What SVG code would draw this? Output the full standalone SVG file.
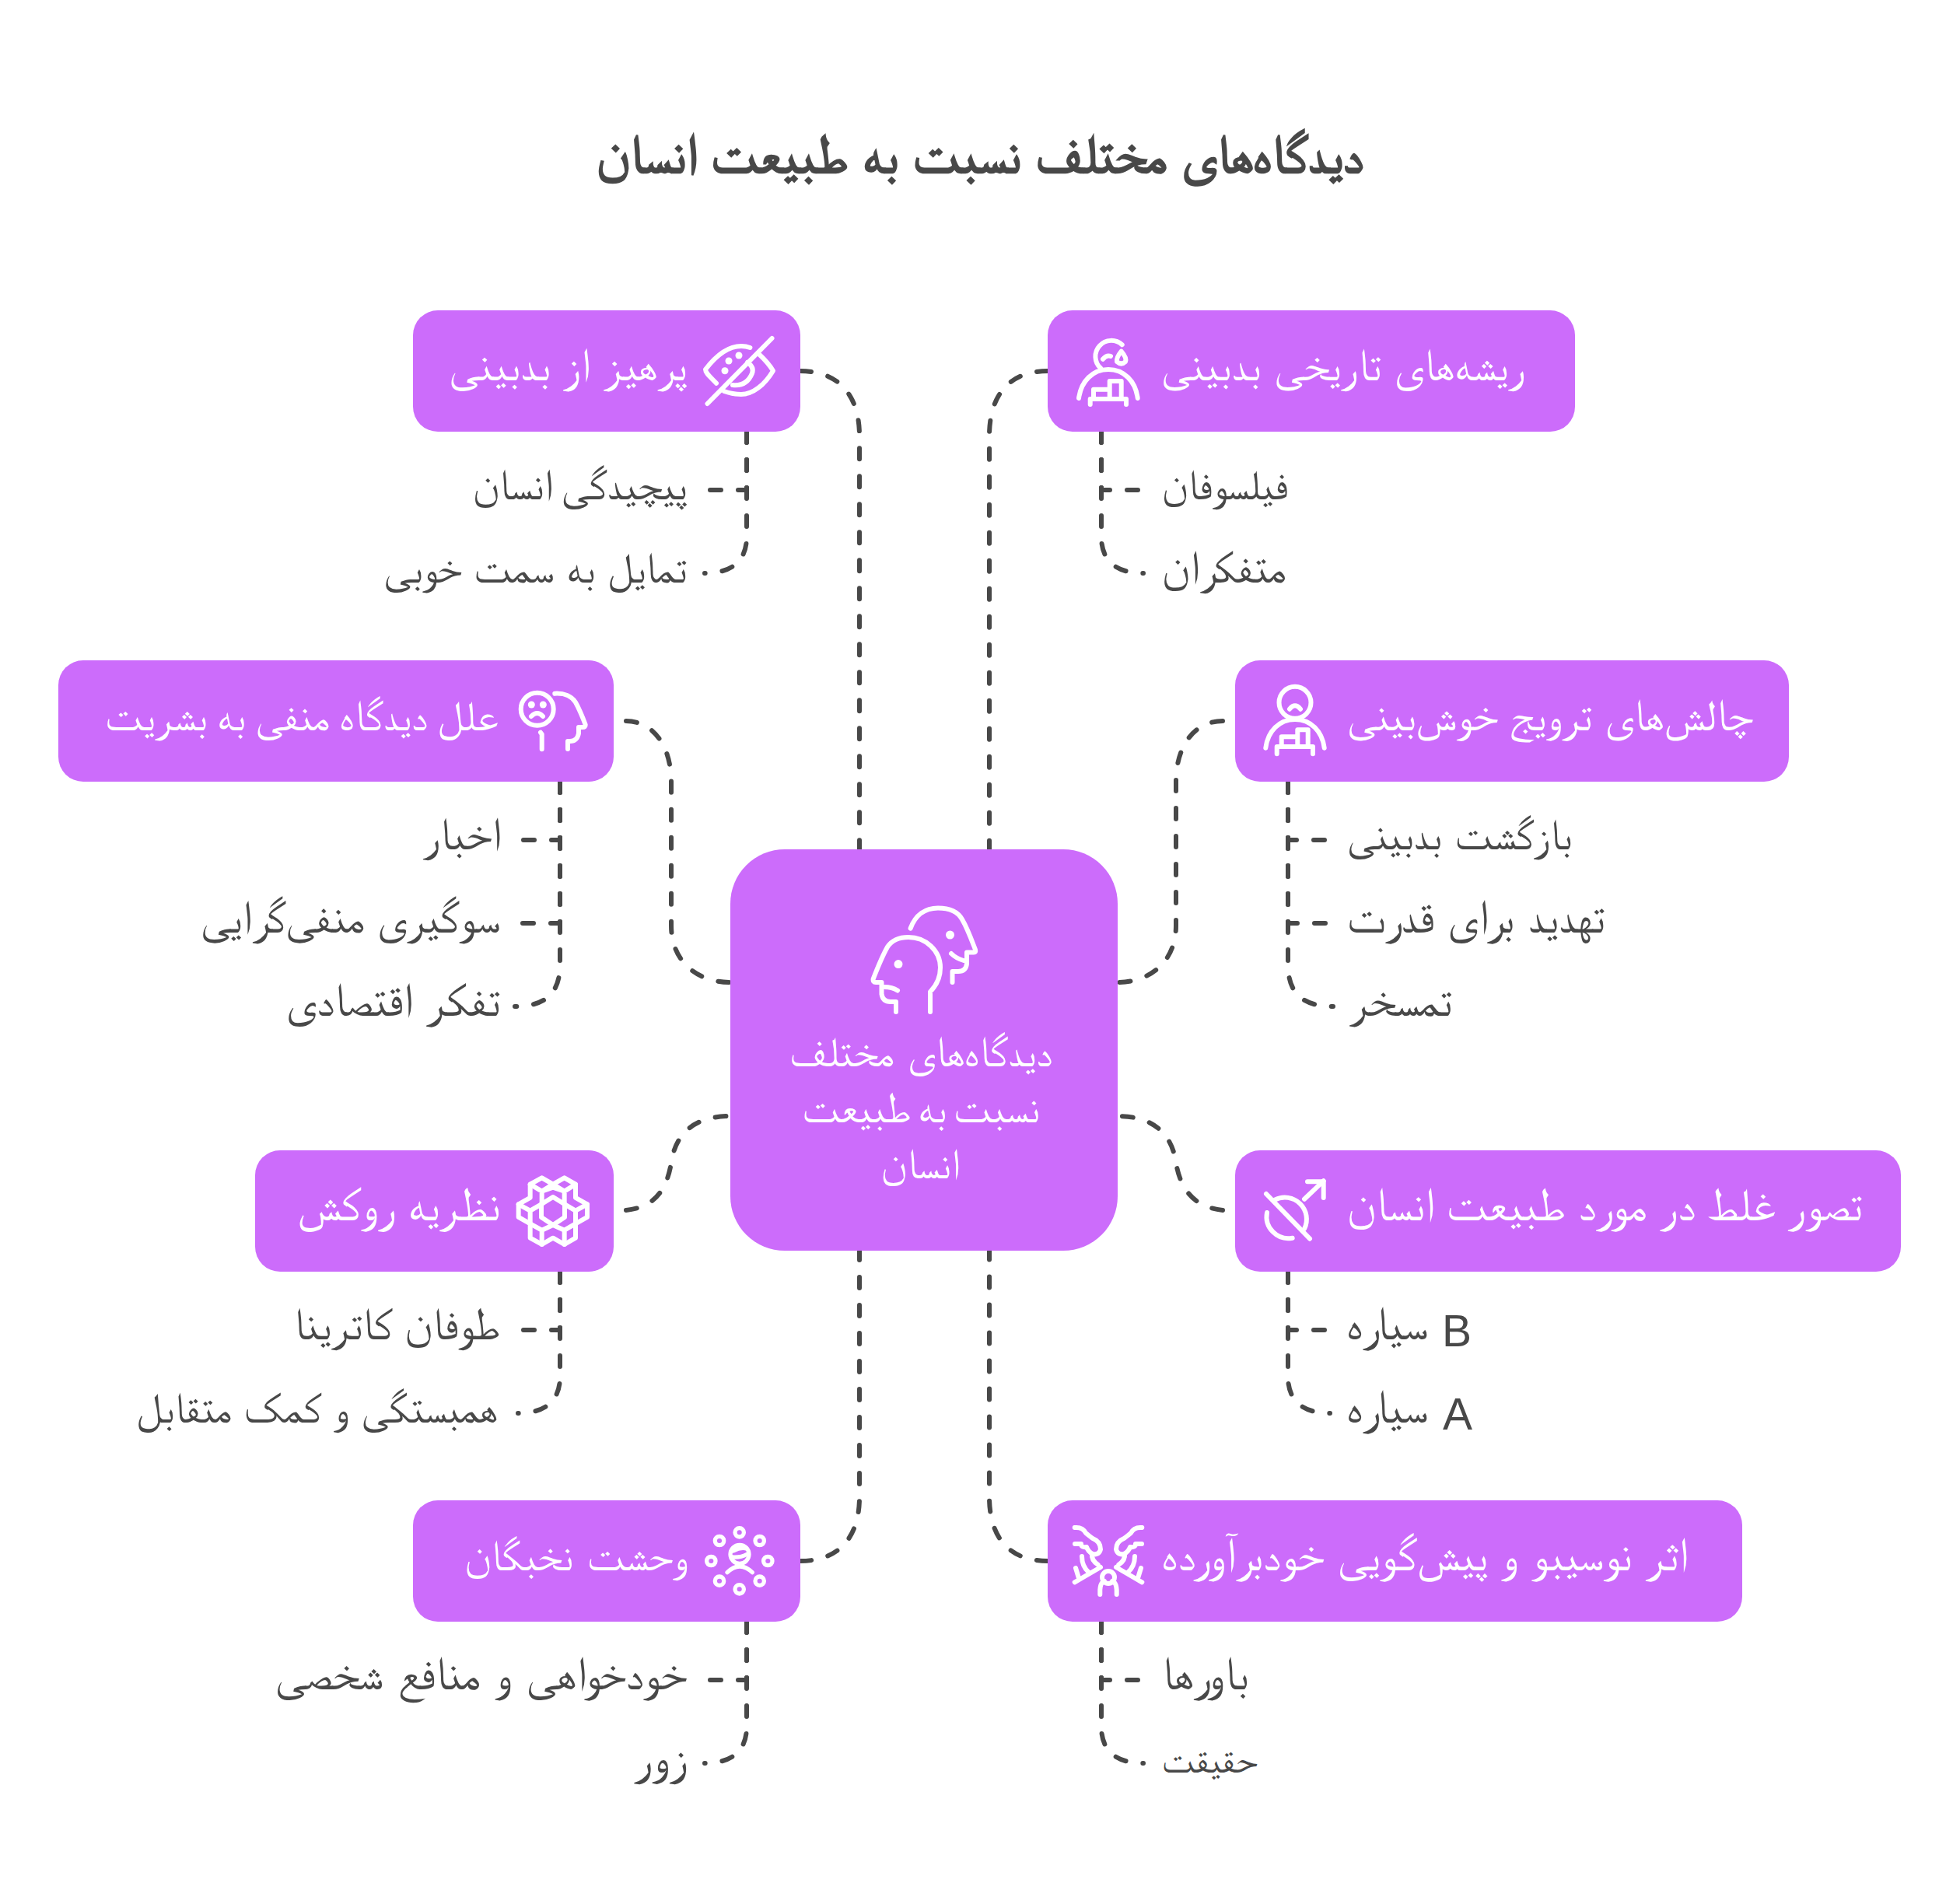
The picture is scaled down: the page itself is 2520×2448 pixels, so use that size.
<svg xmlns="http://www.w3.org/2000/svg" width="2520" height="2448" viewBox="0 0 2520 2448">
<style>
text{font-family:"Liberation Sans","FreeSerif",sans-serif;}
.title{font-size:69px;font-weight:400;fill:#484848;stroke:#484848;stroke-width:2.6;text-anchor:middle}
.n{font-size:55px;fill:#fff}
.l{font-size:55px;fill:#484848}
.lat{font-size:57px}
.s{text-anchor:start}.e{text-anchor:end}.m{text-anchor:middle}
.box{fill:#cc6cfb}
.conn path{fill:none;stroke:#484848;stroke-width:6;stroke-linecap:round;stroke-linejoin:round;stroke-dasharray:14 22}
.ic{fill:none;stroke:#fff;stroke-width:6;stroke-linecap:round;stroke-linejoin:round}
.dot{fill:#fff;stroke:none}
</style>
<rect width="2520" height="2448" fill="#fff"/>
<text class="title" x="1260" y="222">دیدگاه‌های مختلف نسبت به طبیعت انسان</text>
<g id="connectors" class="conn">
<path d="M1029 477C1080 477 1105 510 1105 560V1092"/>
<path d="M1347 477C1296 477 1272 510 1272 560V1092"/>
<path d="M805 927C840 927 863 960 863 1005V1190C863 1235 895 1263 939 1263"/>
<path d="M1572 927C1535 927 1512 960 1512 1005V1190C1512 1235 1480 1263 1437 1263"/>
<path d="M805 1556C845 1552 858 1525 863 1495C868 1460 890 1435 939 1435"/>
<path d="M1572 1556C1532 1552 1517 1525 1512 1495C1507 1460 1485 1435 1437 1435"/>
<path d="M1029 2007C1080 2007 1105 1975 1105 1925V1607"/>
<path d="M1347 2007C1296 2007 1272 1975 1272 1925V1607"/>
<path d="M960 555V630H906"/><path d="M960 555V690C960 722 940 737 906 737"/>
<path d="M1416 555V630H1470"/><path d="M1416 555V690C1416 722 1436 737 1470 737"/>
<path d="M720 1005V1080H666"/><path d="M720 1005V1187H666"/><path d="M720 1005V1240C720 1280 698 1294 662 1294"/>
<path d="M1656 1005V1080H1710"/><path d="M1656 1005V1187H1710"/><path d="M1656 1005V1240C1656 1280 1678 1294 1714 1294"/>
<path d="M720 1635V1710H666"/><path d="M720 1635V1770C720 1802 700 1817 666 1817"/>
<path d="M1656 1635V1710H1710"/><path d="M1656 1635V1770C1656 1802 1676 1817 1710 1817"/>
<path d="M960 2085V2160H906"/><path d="M960 2085V2220C960 2252 940 2267 906 2267"/>
<path d="M1416 2085V2160H1470"/><path d="M1416 2085V2220C1416 2252 1436 2267 1470 2267"/>
</g>
<g id="center">
<rect class="box" x="939" y="1092" width="498" height="516" rx="70"/>
<g class="ic">
<path d="M1170.6 1193.6C1177 1176 1190 1167.5 1206 1167.5C1222 1167.5 1232 1173 1237 1182C1244 1194 1249 1208 1254 1221Q1255 1224.6 1252 1224.6H1243V1239Q1242 1249 1232 1249H1224.5V1263"/>
<path d="M1223 1226Q1229 1232 1239 1235"/>
<path d="M1196 1301V1275C1204 1267 1209 1256 1209 1244C1209 1222 1190 1205 1168 1205C1155 1205 1146 1210 1141 1217.5C1134 1230 1128 1245 1122.7 1258.6Q1122 1263 1126 1263H1133.5V1278Q1135 1288 1145 1288H1152V1301"/>
<path d="M1137 1269Q1147 1269 1154 1273.5"/>
</g>
<circle class="dot" cx="1221.5" cy="1202" r="5.5"/><circle class="dot" cx="1155" cy="1239.6" r="5.5"/>
<text class="n m" x="1184" y="1371" style="word-spacing:2px">دیدگاه‌های مختلف</text>
<text class="n m" x="1184" y="1443" style="word-spacing:-6px">نسبت به طبیعت</text>
<text class="n m" x="1183" y="1515" style="font-size:54px">انسان</text>
</g>
<g id="node-a">
<rect class="box" x="531" y="399" width="498" height="156" rx="32"/>
<g class="ic">
<path d="M992.5 435L909.5 519"/>
<path d="M921 492.7C915 486 907 480 907 475C920 458 935 445 953 445Q959 445 964.4 447"/>
<path d="M975.5 455C983 462 990 470 994 476.7C983 495 968 507 953 507Q942 507 931 503"/>
<path d="M961 466Q970 472 967 480Q960 497 942 495"/>
</g>
<circle class="dot" cx="950" cy="457" r="4.5"/><circle class="dot" cx="937" cy="464" r="4.5"/><circle class="dot" cx="932" cy="476.7" r="4.5"/>
<text class="n e" x="883" y="489" style="font-size:59px">پرهیز از بدبینی</text>
</g>
<g id="node-a1"><text class="l e" x="883" y="642" style="word-spacing:-3.5px">پیچیدگی انسان</text></g>
<g id="node-a2"><text class="l e" x="883" y="749" style="word-spacing:1px">تمایل به سمت خوبی</text></g>
<g id="node-b">
<rect class="box" x="1347" y="399" width="678" height="156" rx="32"/>
<g class="ic">
<path d="M1442.7 443.3A20 20 0 1 0 1415 473.3"/>
<path d="M1387 512C1390 490 1405 475 1425 475C1445 475 1460 490 1462.7 512"/>
<path d="M1401.7 520V513H1448V520"/>
<path d="M1406 512V500.7H1426.7V490H1441.7V512M1426.7 500.7V512"/>
<path d="M1418 461.7Q1423 456 1428 458"/>
<path d="M1441.7 451.7Q1449 460 1447 465Q1441.7 470 1436 465Q1435 460 1441.7 451.7Z"/>
</g>
<text class="n s" x="1493" y="489" style="font-size:58px;word-spacing:1px">ریشه‌های تاریخی بدبینی</text>
</g>
<g id="node-b1"><text class="l s" x="1494" y="642" style="font-size:54px">فیلسوفان</text></g>
<g id="node-b2"><text class="l s" x="1494" y="749" style="font-size:58px">متفکران</text></g>
<g id="node-c">
<rect class="box" x="75" y="849" width="714" height="156" rx="32"/>
<g class="ic">
<circle cx="690.7" cy="911.7" r="21"/>
<path d="M683 921Q690.7 913 698 921"/>
<path d="M695 941.7L696.7 944V963.3"/>
<path d="M713.3 891.7C725 891 735 895 740 903C745 912 749 922 752.7 931.7Q753 935 749 935H744V943Q742 953 733 953H730V963"/>
</g>
<circle class="dot" cx="683.3" cy="906" r="4.5"/><circle class="dot" cx="698.3" cy="906" r="4.5"/>
<text class="n e" x="640" y="939" style="word-spacing:-2.3px">علل دیدگاه منفی به بشریت</text>
</g>
<g id="node-c1"><text class="l e" x="643" y="1092" style="font-size:58px">اخبار</text></g>
<g id="node-c2"><text class="l e" x="643" y="1199" style="font-size:58.5px">سوگیری منفی‌گرایی</text></g>
<g id="node-c3"><text class="l e" x="643" y="1306" style="font-size:60px;word-spacing:2px">تفکر اقتصادی</text></g>
<g id="node-d">
<rect class="box" x="1588" y="849" width="712" height="156" rx="32"/>
<g class="ic">
<circle cx="1665" cy="903.3" r="20.5"/>
<path d="M1627.3 961.7C1630 940 1645 925 1665 925C1685 925 1700 940 1702.7 961.7"/>
<path d="M1641.7 969.3V960H1688V969.3"/>
<path d="M1647.7 958V947.3H1668.3V938.3H1681.7V958M1668.3 947.3V958"/>
<path d="M1658 911.7Q1665 903 1672 911.7"/>
</g>
<text class="n s" x="1732" y="939" style="font-size:57px;word-spacing:1px">چالش‌های ترویج خوش‌بینی</text>
</g>
<g id="node-d1"><text class="l s" x="1732" y="1092" style="word-spacing:2px">بازگشت بدبینی</text></g>
<g id="node-d2"><text class="l s" x="1732" y="1199" style="font-size:60px;word-spacing:1px">تهدید برای قدرت</text></g>
<g id="node-d3"><text class="l s" x="1735" y="1306" style="font-size:59px">تمسخر</text></g>
<g id="node-e">
<rect class="box" x="328" y="1479" width="461" height="156" rx="32"/>
<g class="ic" transform="translate(640 1490) scale(.3333)" style="stroke-width:18">
<path d="M170 73L213 98L257 73L300 98V150L345 175V225L300 250V305L257 330L213 305L170 330L125 305V250L80 225V175L125 150V98Z"/>
<path d="M213 147L258 175V225L213 255L168 225V175Z"/>
<path d="M125 98L170 125L213 98L257 125L300 98M170 125V175M257 125V175M170 125L213 110L257 125"/>
<path d="M80 175L125 200L168 175M345 175L300 200L258 175M125 200V250M300 200V250"/>
<path d="M125 250L170 275L213 255L257 275L300 250M170 275V330M257 275V330"/>
</g>
<text class="n e" x="643" y="1569" style="font-size:61px">نظریه روکش</text>
</g>
<g id="node-e1"><text class="l e" x="643" y="1722" style="font-size:57.5px">طوفان کاترینا</text></g>
<g id="node-e2"><text class="l e" x="640" y="1829" style="word-spacing:.5px">همبستگی و کمک متقابل</text></g>
<g id="node-f">
<rect class="box" x="1588" y="1479" width="856" height="156" rx="32"/>
<g class="ic">
<path d="M1629 1559A28 28 0 0 0 1661.7 1591.7"/>
<path d="M1639 1542.7A28 28 0 0 1 1677 1580"/>
<path d="M1628 1535L1684 1592.7"/>
<path d="M1677 1541.7L1701.7 1518.3"/>
<path d="M1681 1519.3H1701.7V1540"/>
</g>
<text class="n s" x="1732" y="1569" style="font-size:60px">تصور غلط در مورد طبیعت انسان</text>
</g>
<g id="node-f1"><text class="l s" x="1732" y="1722" style="font-size:60px">سیاره <tspan class="lat" x="1854" y="1731">B</tspan></text></g>
<g id="node-f2"><text class="l s" x="1732" y="1829" style="font-size:60px">سیاره <tspan class="lat" x="1855" y="1838">A</tspan></text></g>
<g id="node-g">
<rect class="box" x="531" y="1929" width="498" height="156" rx="32"/>
<g class="ic" style="stroke-width:5.3">
<circle cx="950.7" cy="1970.3" r="5.7"/><circle cx="976.7" cy="1981" r="5.7"/><circle cx="987.3" cy="2007" r="5.7"/><circle cx="976.7" cy="2032.7" r="5.7"/><circle cx="950.7" cy="2043.3" r="5.7"/><circle cx="925" cy="2032.7" r="5.7"/><circle cx="914.3" cy="2007" r="5.7"/><circle cx="925" cy="1981" r="5.7"/>
<circle cx="951" cy="1998.3" r="12"/>
<path d="M943 1994Q952 1989 960 1991M941 2002Q952 2003 961 1998"/>
<path d="M935 2021.7Q951 2006 967.3 2021.7"/>
</g>
<text class="n e" x="883" y="2019" style="word-spacing:3px">وحشت نخبگان</text>
</g>
<g id="node-g1"><text class="l e" x="883" y="2172" style="font-size:60px;word-spacing:2px">خودخواهی و منافع شخصی</text></g>
<g id="node-g2"><text class="l e" x="883" y="2279" style="font-size:62px;letter-spacing:10px">زور</text></g>
<g id="node-h">
<rect class="box" x="1347" y="1929" width="893" height="156" rx="32"/>
<g class="ic">
<circle cx="1425" cy="2028" r="8"/>
<path d="M1414.3 2050V2044Q1415 2034 1420 2033M1435.7 2050V2044Q1435 2034 1430 2033"/>
<g id="wing">
<path d="M1381.7 2034.3L1415 2015"/>
<path d="M1383 2016L1386.7 2028M1391 2001Q1391 2014 1400 2021.7M1404 1998Q1403 2006 1411.7 2011.7"/>
<path d="M1381.7 1964Q1392 1963 1396 1971Q1402 1976 1405 1978Q1415 1982 1415 1992Q1413 2000 1405 1998Q1399 1995 1397 1989Q1390 1990 1390 1985H1382"/>
</g>
<use href="#wing" transform="matrix(-1 0 0 1 2850 0)"/>
</g>
<text class="n s" x="1494" y="2019" style="font-size:60px;word-spacing:1px">اثر نوسیبو و پیش‌گویی خودبرآورده</text>
</g>
<g id="node-h1"><text class="l s" x="1494" y="2172" style="font-size:60px;letter-spacing:5px">باورها</text></g>
<g id="node-h2"><text class="l s" x="1494" y="2279" style="font-size:48px">حقیقت</text></g>
</svg>
